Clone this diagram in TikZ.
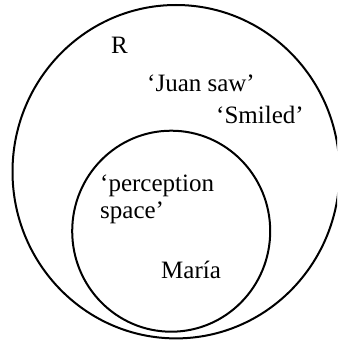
\documentclass[tikz,border=0pt]{standalone}
\usepackage{fontspec}
\setmainfont{Liberation Serif}
\usepackage{tikz}

\begin{document}
\begin{tikzpicture}[x=1pt, y=-1pt,
    region/.style={draw, line width=2pt},
    word/.style={inner sep=0pt, anchor=base west, font=\fontsize{25}{26.5}\selectfont}]
    \clip (0,0) rectangle (337,342);

    \draw[region] (176,171.7) ellipse [x radius=163.5, y radius=166.7];
    \draw[region] (171.2,231.2) ellipse [x radius=99, y radius=100.5];

    \node[word] (r) at (111,54) {R};
    \node[word] (juan) at (147,91.7) {‘Juan saw’};
    \node[word] (smiled) at (216,123) {‘Smiled’};
    \node[word, align=left] (space) at (100,218.2) {‘perception\\space’};
    \node[word] (maria) at (161,278) {María};
\end{tikzpicture}
\end{document}
